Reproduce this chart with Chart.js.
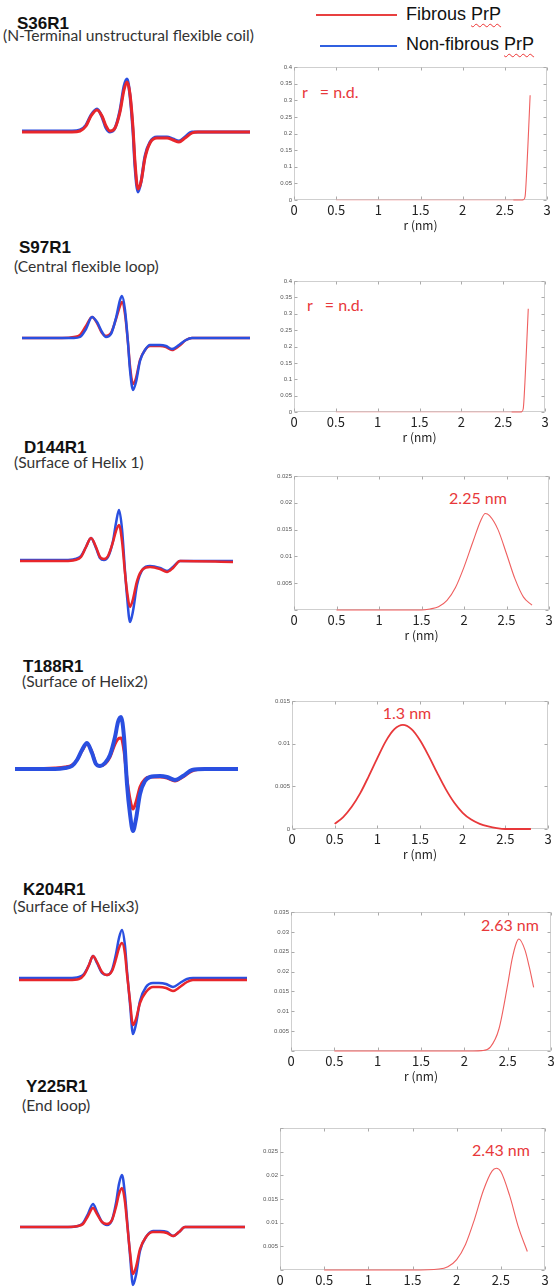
<!DOCTYPE html>
<html lang="en">
<head>
<meta charset="UTF-8" />
<title>PrP ESR spectra and distance distributions</title>
<style>
  * { margin: 0; padding: 0; box-sizing: border-box; }
  html, body { width: 557px; height: 1288px; overflow: hidden; background: #fff; }
  #page { position: relative; width: 557px; height: 1288px; }
  .panel { position: absolute; }
  .title { position: absolute; font: bold 17px "Liberation Sans", Arial, sans-serif; color: #111; line-height: 1; white-space: nowrap; }
  .sub { position: absolute; font: 15.6px Lato, sans-serif; color: #333; line-height: 1; white-space: nowrap; }
  .note { position: absolute; font: 16px Lato, sans-serif; color: #e8383a; line-height: 1; white-space: pre; }
  .note.c { transform: translateX(-50%); }
  .legline { position: absolute; height: 2px; }
  .legtext { position: absolute; font: 18px "Liberation Sans", Arial, sans-serif; color: #111; line-height: 1; white-space: nowrap; }
  .squiggle { text-decoration: underline wavy #e33; text-decoration-thickness: 1px; text-underline-offset: 3px; }
</style>
<script src="https://cdn.jsdelivr.net/npm/chart.js"></script>
<script>
  // ---- ESR spectra: x = field offset (G), y = intensity (a.u.) ----
  const s36Field = [0, 50, 58, 64, 69, 75, 80, 84, 88, 93, 98, 102, 105, 108, 111, 113, 116, 119, 123, 128, 135, 145, 151, 157, 163, 170, 176, 228];
  const s36Fibrous = [0, 0, 1, 6, 16, 22, 16, 6, 1, 4, 20, 42, 50, 38, 4, -30, -57, -50, -26, -11, -6, -6, -8, -10, -6, -1, 0, 0];
  const s36NonFibrous = [1, 1, 2, 7, 17, 23, 15, 4, 0, 4, 22, 46, 53, 36, 0, -35, -60, -50, -24, -10, -5, -5, -7, -9, -5, 0, 0, 0];

  const s97Field = [0, 40, 52, 58, 64, 70, 75, 80, 84, 89, 94, 98, 100, 103, 106, 108, 111, 114, 118, 123, 128, 138, 144, 150, 157, 164, 170, 228];
  const s97Fibrous = [0, 0, 1, 3, 12, 21, 15, 5, 2, 5, 19, 32, 36, 24, -5, -28, -46, -40, -22, -12, -8, -8, -9, -12, -8, -2, 0, 0];
  const s97NonFibrous = [0, 0, 0, 1, 9, 21, 16, 6, 1, 4, 20, 38, 42, 28, -5, -32, -52, -44, -23, -12, -7, -7, -8, -11, -7, -2, 0, 0];

  const d144Field = [0, 45, 55, 61, 66, 71, 76, 80, 84, 88, 93, 96, 99, 102, 105, 107, 110, 113, 117, 123, 130, 140, 147, 153, 160, 213];
  const d144Fibrous = [0, 0, 1, 4, 14, 23, 14, 4, 2, 5, 19, 30, 36, 20, -12, -30, -46, -38, -20, -8, -6, -8, -11, -7, 0, -1];
  const d144NonFibrous = [1, 1, 2, 5, 14, 23, 13, 3, 1, 4, 20, 38, 51, 32, -10, -35, -61, -50, -24, -8, -5, -7, -10, -6, 0, 0];

  const t188Field = [0, 40, 50, 57, 62, 67, 72, 77, 81, 85, 90, 95, 100, 103, 106, 109, 112, 115, 118, 121, 125, 130, 135, 145, 152, 160, 168, 177, 190, 223];
  const t188Fibrous = [0, 1, 2, 4, 9, 18, 25, 17, 5, 3, 5, 12, 25, 30, 31, 18, -10, -30, -40, -33, -18, -10, -8, -8, -9, -12, -8, -2, 0, 0];
  const t188NonFibrous = [0, 0, 1, 3, 9, 19, 26, 16, 5, 3, 6, 14, 32, 47, 52, 32, -15, -45, -62, -50, -25, -12, -8, -7, -8, -11, -7, -1, 0, 0];

  const k204Field = [0, 50, 60, 65, 70, 74, 78, 83, 88, 93, 97, 100, 103, 106, 108, 111, 114, 117, 121, 127, 134, 140, 147, 154, 161, 168, 174, 228];
  const k204Fibrous = [-1, -1, 0, 4, 14, 23, 17, 7, 4, 8, 20, 31, 36, 25, 5, -22, -46, -40, -24, -13, -8, -8, -9, -12, -8, -3, -1, -1];
  const k204NonFibrous = [1, 1, 2, 5, 14, 23, 16, 6, 4, 9, 25, 41, 49, 33, 8, -25, -55, -45, -22, -8, -4, -4, -5, -8, -4, 0, 1, 1];

  const y225Field = [0, 48, 58, 63, 68, 73, 77, 82, 87, 92, 96, 99, 102, 105, 107, 110, 113, 116, 120, 126, 133, 140, 147, 153, 159, 165, 225];
  const y225Fibrous = [0, 0, 1, 3, 11, 19, 13, 5, 3, 7, 20, 33, 39, 25, 5, -25, -47, -40, -22, -10, -5, -5, -6, -9, -5, 0, 0];
  const y225NonFibrous = [0, 0, 1, 4, 13, 23, 15, 5, 2, 7, 24, 43, 52, 32, 8, -28, -58, -48, -24, -10, -4, -4, -5, -9, -5, 0, 0];

  // ---- distance distributions P(r), fibrous PrP ----
  const s36R = [0.5, 1.0, 1.5, 2.0, 2.5, 2.6, 2.7, 2.72, 2.74, 2.76, 2.78, 2.8];
  const s36P = [0, 0, 0, 0, 0, 0, 0, 0.0005, 0.01, 0.09, 0.2, 0.315];

  const s97R = [0.5, 1.0, 1.5, 2.0, 2.5, 2.6, 2.7, 2.72, 2.74, 2.76, 2.78, 2.8];
  const s97P = [0, 0, 0, 0, 0, 0, 0, 0.0005, 0.01, 0.09, 0.2, 0.315];

  const d144R = [0.5, 1.0, 1.5, 1.6, 1.7, 1.8, 1.9, 2.0, 2.1, 2.2, 2.25, 2.3, 2.4, 2.5, 2.6, 2.7, 2.8];
  const d144P = [0, 0, 0, 0.0002, 0.0006, 0.0018, 0.0042, 0.008, 0.0125, 0.0168, 0.018, 0.0176, 0.015, 0.0105, 0.0058, 0.0024, 0.0009];

  const t188R = [0.5, 0.6, 0.7, 0.8, 0.9, 1.0, 1.1, 1.2, 1.3, 1.4, 1.5, 1.6, 1.7, 1.8, 1.9, 2.0, 2.1, 2.2, 2.3, 2.4, 2.5, 2.6, 2.7, 2.8];
  const t188P = [0.0006, 0.0014, 0.0026, 0.0042, 0.0062, 0.0083, 0.0103, 0.0117, 0.0122, 0.0117, 0.0104, 0.0086, 0.0066, 0.0047, 0.0031, 0.0019, 0.0011, 0.0006, 0.0003, 0.0001, 0, 0, 0, 0];

  const k204R = [0.5, 1.0, 1.5, 2.0, 2.1, 2.2, 2.3, 2.4, 2.5, 2.55, 2.6, 2.63, 2.7, 2.75, 2.8];
  const k204P = [0, 0, 0, 0, 0, 0.0001, 0.001, 0.0056, 0.0167, 0.023, 0.0272, 0.0282, 0.0254, 0.0211, 0.016];

  const y225R = [0.5, 1.0, 1.5, 1.8, 1.9, 2.0, 2.1, 2.2, 2.3, 2.4, 2.45, 2.5, 2.6, 2.7, 2.8];
  const y225P = [0, 0, 0, 0.0002, 0.0007, 0.0022, 0.0054, 0.0106, 0.0167, 0.0209, 0.0215, 0.0208, 0.0157, 0.009, 0.0039];

  const RED = "#e8262b";
  const BLUE = "#2a4fe0";
  const SPEC_YMAX = 60, SPEC_YMIN = -70, SPEC_PAD = 6;

  // where each spectrum trace sits on the page
  const spectrumPanels = [
    { x0: 22, x1: 250, base: 132, field: s36Field, red: s36Fibrous, blue: s36NonFibrous, redTop: true, wRed: 3, wBlue: 3 },
    { x0: 22, x1: 250, base: 338, field: s97Field, red: s97Fibrous, blue: s97NonFibrous, redTop: false, wRed: 2.5, wBlue: 2.5 },
    { x0: 20, x1: 233, base: 561, field: d144Field, red: d144Fibrous, blue: d144NonFibrous, redTop: true, wRed: 2.5, wBlue: 2.5 },
    { x0: 15, x1: 238, base: 769, field: t188Field, red: t188Fibrous, blue: t188NonFibrous, redTop: false, wRed: 3, wBlue: 4 },
    { x0: 19, x1: 247, base: 979, field: k204Field, red: k204Fibrous, blue: k204NonFibrous, redTop: true, wRed: 2.5, wBlue: 2.5 },
    { x0: 20, x1: 245, base: 1227, field: y225Field, red: y225Fibrous, blue: y225NonFibrous, redTop: true, wRed: 2.5, wBlue: 2.5 },
  ];

  // plot frames of the P(r) panels
  const distPanels = [
    { L: 294, R: 547, T: 67, B: 200, ymax: 0.4, step: 0.05, r: s36R, p: s36P, fade: 2.6 },
    { L: 294, R: 545, T: 281, B: 412, ymax: 0.4, step: 0.05, r: s97R, p: s97P, fade: 2.6 },
    { L: 294, R: 549, T: 476, B: 610, ymax: 0.025, step: 0.005, r: d144R, p: d144P, hideZero: true },
    { L: 292, R: 548, T: 701, B: 829, ymax: 0.015, step: 0.005, r: t188R, p: t188P, thick: true },
    { L: 291, R: 551, T: 912, B: 1051, ymax: 0.035, step: 0.005, r: k204R, p: k204P, hideZero: true },
    { L: 280, R: 545, T: 1128, B: 1270, ymax: 0.03, step: 0.005, r: y225R, p: y225P, hideZero: true, hideTop: true },
  ];

  const framePlugin = {
    id: "frame",
    beforeDatasetsDraw(chart) {
      const { ctx, chartArea: a, scales: { x, y } } = chart;
      const l = Math.round(a.left) + 0.5, r = Math.round(a.right) - 0.5;
      const t = Math.round(a.top) + 0.5, b = Math.round(a.bottom) - 0.5;
      ctx.save();
      ctx.strokeStyle = "#cfcfcf";
      ctx.lineWidth = 1;
      ctx.strokeRect(l, t, r - l, b - t);
      ctx.strokeStyle = "#aaa";
      ctx.beginPath();
      x.ticks.forEach(tk => {
        const px = Math.round(x.getPixelForValue(tk.value)) + 0.5;
        ctx.moveTo(px, b); ctx.lineTo(px, b - 3);
        ctx.moveTo(px, t); ctx.lineTo(px, t + 3);
      });
      y.ticks.forEach(tk => {
        const py = Math.round(y.getPixelForValue(tk.value)) + 0.5;
        ctx.moveTo(l, py); ctx.lineTo(l + 3, py);
        ctx.moveTo(r, py); ctx.lineTo(r - 3, py);
      });
      ctx.stroke();
      ctx.restore();
    }
  };

  function addCanvas(left, top, w, h) {
    const holder = document.createElement("div");
    holder.className = "panel";
    holder.style.left = left + "px";
    holder.style.top = top + "px";
    const cv = document.createElement("canvas");
    cv.width = w;
    cv.height = h;
    holder.appendChild(cv);
    document.getElementById("page").appendChild(holder);
    return cv;
  }

  function drawSpectrum(s) {
    const w = s.x1 - s.x0 + 2 * SPEC_PAD;
    const h = SPEC_YMAX - SPEC_YMIN + 2 * SPEC_PAD;
    const cv = addCanvas(s.x0 - SPEC_PAD, s.base - SPEC_YMAX - SPEC_PAD, w, h);
    const red = { label: "Fibrous PrP", data: s.field.map((x, i) => ({ x, y: s.red[i] })), borderColor: RED, borderWidth: s.wRed };
    const blue = { label: "Non-fibrous PrP", data: s.field.map((x, i) => ({ x, y: s.blue[i] })), borderColor: BLUE, borderWidth: s.wBlue };
    new Chart(cv, {
      type: "line",
      data: { datasets: s.redTop ? [red, blue] : [blue, red] },
      options: {
        responsive: false, animation: false, events: [],
        layout: { padding: SPEC_PAD },
        plugins: { legend: { display: false }, tooltip: { enabled: false } },
        scales: {
          x: { type: "linear", display: false, min: 0, max: s.x1 - s.x0 },
          y: { display: false, min: SPEC_YMIN, max: SPEC_YMAX },
        },
        elements: {
          point: { radius: 0 },
          line: { cubicInterpolationMode: "monotone", borderCapStyle: "round", borderJoinStyle: "round", fill: false },
        },
      },
    });
  }

  function drawDistance(d) {
    const left = 40, top = 8, right = 10, bottom = 46;
    const cv = addCanvas(d.L - left, d.T - top, d.R - d.L + left + right, d.B - d.T + top + bottom);
    const color = d.thick ? "#e8383a" : "#ef5f5f";
    new Chart(cv, {
      type: "line",
      data: {
        datasets: [{
          data: d.r.map((x, i) => ({ x, y: d.p[i] })),
          borderColor: color,
          borderWidth: d.thick ? 1.8 : 1.1,
          clip: false,
          segment: d.fade ? { borderColor: c => (c.p1.parsed.x <= d.fade ? "rgba(240,120,120,0.45)" : color) } : undefined,
        }],
      },
      options: {
        responsive: false, animation: false, events: [],
        layout: { padding: { left: 0, top: top, right: right, bottom: 0 } },
        plugins: { legend: { display: false }, tooltip: { enabled: false } },
        elements: { point: { radius: 0 }, line: { cubicInterpolationMode: "monotone", fill: false } },
        scales: {
          x: {
            type: "linear", min: 0, max: 3,
            afterFit: s => { s.height = bottom; },
            grid: { display: false, drawTicks: false },
            border: { display: false },
            ticks: {
              stepSize: 0.5, autoSkip: false, maxRotation: 0, padding: 2, color: "#222",
              font: { size: 13, family: '"Noto Sans CJK JP", "Noto Sans", sans-serif' },
              callback: v => String(+v.toFixed(2)),
            },
            title: {
              display: true, text: "r (nm)", color: "#222",
              font: { size: 12, family: '"Noto Sans CJK JP", "Noto Sans", sans-serif' },
              padding: { top: 0, bottom: 13 },
            },
          },
          y: {
            min: 0, max: d.ymax,
            afterFit: s => { s.width = left; },
            grid: { display: false, drawTicks: false },
            border: { display: false },
            ticks: {
              stepSize: d.step, padding: 2, color: "#555",
              font: { size: 6, family: '"Liberation Sans", Arial, sans-serif' },
              callback: v => {
                if (d.hideZero && v === 0) return "";
                if (d.hideTop && Math.abs(v - d.ymax) < 1e-9) return "";
                return String(+v.toFixed(3));
              },
            },
          },
        },
      },
      plugins: [framePlugin],
    });
  }

  window.onload = () => {
    spectrumPanels.forEach(drawSpectrum);
    distPanels.forEach(drawDistance);
  };
</script>
</head>
<body>
  <div id="page">
    <!-- legend -->
    <div class="legline" style="left:316px; top:14px; width:81px; background:#e84040;"></div>
    <div class="legtext" style="left:406px; top:5px;">Fibrous <span class="squiggle">PrP</span></div>
    <div class="legline" style="left:320px; top:45px; width:77px; background:#3060e0;"></div>
    <div class="legtext" style="left:406px; top:35px;">Non-fibrous <span class="squiggle">PrP</span></div>

    <!-- row labels -->
    <div class="title" style="left:17px; top:15px;">S36R1</div>
    <div class="sub" style="left:3px; top:28px;">(N-Terminal unstructural flexible coil)</div>
    <div class="title" style="left:19px; top:239px;">S97R1</div>
    <div class="sub" style="left:14px; top:259px;">(Central flexible loop)</div>
    <div class="title" style="left:24px; top:439px;">D144R1</div>
    <div class="sub" style="left:14px; top:455px;">(Surface of Helix 1)</div>
    <div class="title" style="left:23px; top:658px;">T188R1</div>
    <div class="sub" style="left:22px; top:674px;">(Surface of Helix2)</div>
    <div class="title" style="left:23px; top:881px;">K204R1</div>
    <div class="sub" style="left:13px; top:899px;">(Surface of Helix3)</div>
    <div class="title" style="left:26px; top:1078px;">Y225R1</div>
    <div class="sub" style="left:22px; top:1098px;">(End loop)</div>

    <!-- peak annotations -->
    <div class="note" style="left:302px; top:84px;">r   = n.d.</div>
    <div class="note" style="left:307px; top:297px;">r   = n.d.</div>
    <div class="note c" style="left:478px; top:490px;">2.25 nm</div>
    <div class="note c" style="left:407px; top:705px;">1.3 nm</div>
    <div class="note c" style="left:510px; top:917px;">2.63 nm</div>
    <div class="note c" style="left:501px; top:1142px;">2.43 nm</div>
  </div>
</body>
</html>
